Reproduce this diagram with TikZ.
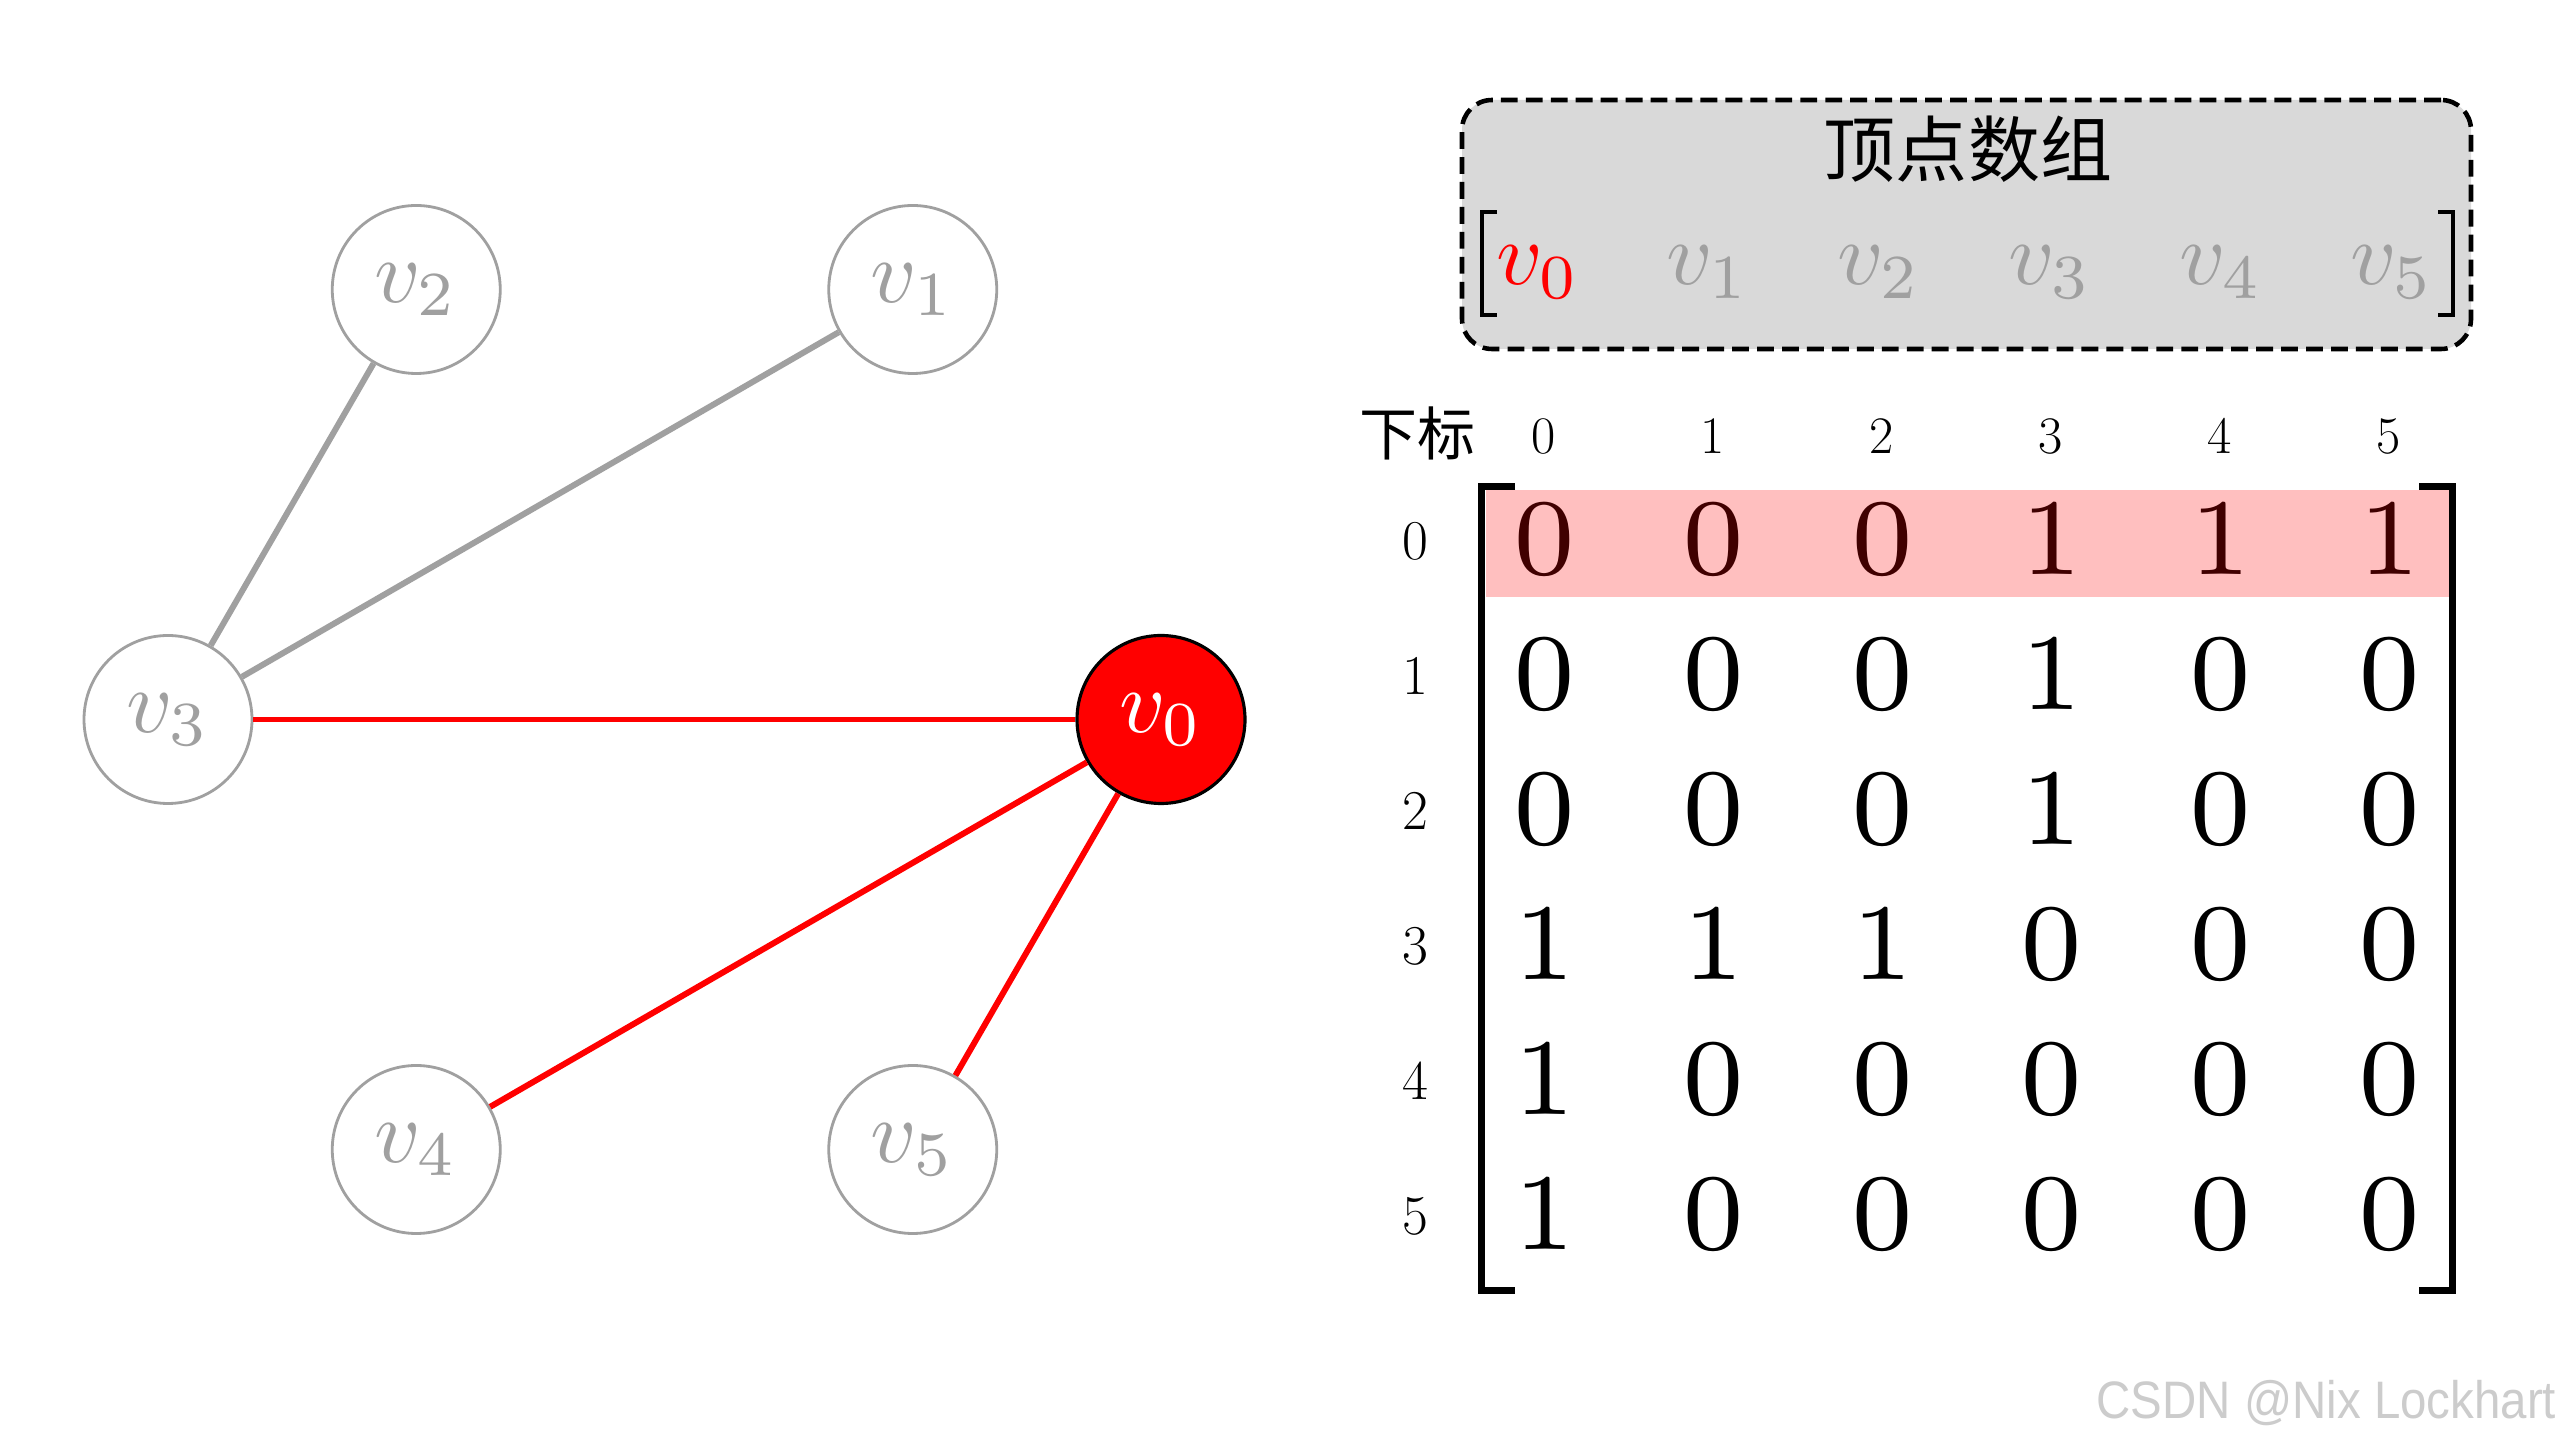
\documentclass[tikz,border=0pt]{standalone}
\usepackage{fontspec}
\usepackage{graphicx}
\newfontfamily\cjk{Noto Sans CJK SC}
\newfontfamily\wmfont{Liberation Sans}
\definecolor{edgegray}{HTML}{A0A0A0}
\definecolor{boxgray}{HTML}{D9D9D9}
\definecolor{wmgray}{HTML}{CCCCCC}
\newcommand{\mtxd}[1]{\scalebox{4.43}{\fontsize{7}{8}\selectfont #1}}
\newcommand{\vlab}[1]{\scalebox{2.55}{\fontsize{10}{12}\selectfont $v_{#1}$}}
\tikzset{
  gnode/.style={circle, draw=edgegray, line width=0.8pt, fill=white,
    minimum size=1.68cm, inner sep=0pt, text=edgegray},
  rnode/.style={gnode, draw=black, fill=red, text=white, line width=0.9pt},
  gedge/.style={draw=edgegray, line width=1.7pt},
  redge/.style={draw=red, line width=1.7pt},
  arrbox/.style={draw=black, fill=boxgray, rounded corners=0.3cm,
    line width=1.3pt, dash pattern=on 4.8pt off 2.3pt,
    minimum width=10.09cm, minimum height=2.49cm, inner sep=0pt},
  alabel/.style={anchor=base, inner sep=0pt},
  thinbrk/.style={line width=0.04cm},
  thickbrk/.style={line width=0.07cm},
  plain/.style={anchor=base, inner sep=0pt},
}
\begin{document}
\begin{tikzpicture}
\useasboundingbox (0,0) rectangle (25.6,14.4);
\fill[white] (0,0) rectangle (25.6,14.4);

% ---------- graph ----------
\node[rnode] (v0) at (11.61,7.205) {\vlab{0}};
\node[gnode] (v1) at (9.1275,11.505) {\vlab{1}};
\node[gnode] (v2) at (4.1625,11.505) {\vlab{2}};
\node[gnode] (v3) at (1.68,7.205) {\vlab{3}};
\node[gnode] (v4) at (4.1625,2.905) {\vlab{4}};
\node[gnode] (v5) at (9.1275,2.905) {\vlab{5}};

\draw[gedge] (v3) -- (v2);
\draw[gedge] (v3) -- (v1);
\draw[redge] (v3) -- (v0);
\draw[redge] (v0) -- (v4);
\draw[redge] (v0) -- (v5);

% ---------- vertex array ----------
\node[arrbox] (arr) at (19.665,12.155) {};
\node[anchor=center, inner sep=0pt, font=\cjk\fontsize{20.5}{24}\selectfont] (title) at (19.68,12.91) {顶点数组};
\draw[thinbrk] (14.97,12.28) -- (14.82,12.28) -- (14.82,11.25) -- (14.97,11.25);
\draw[thinbrk] (24.38,12.28) -- (24.53,12.28) -- (24.53,11.25) -- (24.38,11.25);
\node[alabel, text=red] (a0) at (15.38,11.55) {\vlab{0}};
\node[alabel, text=edgegray] (a1) at (17.08,11.55) {\vlab{1}};
\node[alabel, text=edgegray] (a2) at (18.79,11.55) {\vlab{2}};
\node[alabel, text=edgegray] (a3) at (20.50,11.55) {\vlab{3}};
\node[alabel, text=edgegray] (a4) at (22.21,11.55) {\vlab{4}};
\node[alabel, text=edgegray] (a5) at (23.92,11.55) {\vlab{5}};

% ---------- index row ----------
\node[plain, font=\cjk\fontsize{16.5}{20}\selectfont] (idx) at (14.17,9.84) {下标};
\foreach \j in {0,...,5}
  \node[plain, font=\fontsize{15}{18}\selectfont] (c\j) at ({15.44+1.69*\j},9.86) {\j};

% ---------- row labels ----------
\foreach \i in {0,...,5}
  \node[plain, font=\fontsize{16}{19}\selectfont] (r\i) at (14.15,{8.80-1.348*\i}) {\i};

% ---------- matrix ----------
\foreach \row [count=\i from 0] in {{0,0,0,1,1,1},{0,0,0,1,0,0},{0,0,0,1,0,0},{1,1,1,0,0,0},{1,0,0,0,0,0},{1,0,0,0,0,0}}{
  \foreach \val [count=\j from 0] in \row {
    \node[plain] (m\i\j) at ({15.44+1.69*\j},{8.65-1.348*\i}) {\mtxd{\val}};
  }
}
\fill[red, fill opacity=0.25] (14.86,9.50) rectangle (24.49,8.43);
\draw[thickbrk] (15.15,9.535) -- (14.815,9.535) -- (14.815,1.50) -- (15.15,1.50);
\draw[thickbrk] (24.19,9.535) -- (24.52,9.535) -- (24.52,1.50) -- (24.19,1.50);

% ---------- watermark ----------
\node[anchor=base west, inner sep=0pt, text=wmgray, font=\wmfont\fontsize{15}{18}\selectfont] (wm) at (20.96,0.22) {\scalebox{0.9}[1]{CSDN @Nix Lockhart}};
\end{tikzpicture}
\end{document}
